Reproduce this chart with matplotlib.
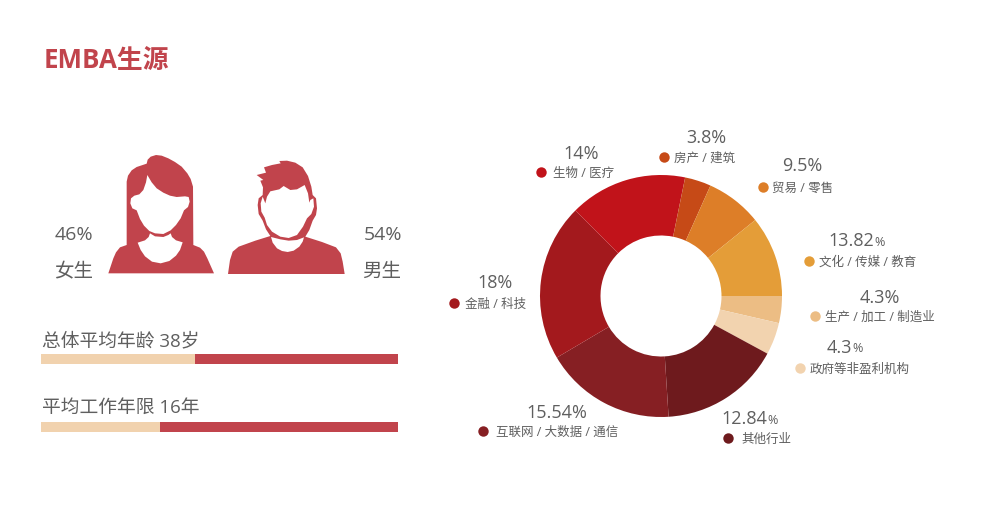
import matplotlib
matplotlib.use("Agg")
import matplotlib.pyplot as plt
from matplotlib.patches import Polygon

plt.rcParams['font.family'] = ['Open Sans', 'Noto Sans CJK SC', 'DejaVu Sans']

# ---- data ----
title = "EMBA生源"
gender_labels = ["女生", "男生"]
gender_values = ["46%", "54%"]
bar_titles = ["总体平均年龄 38岁", "平均工作年限 16年"]
bar_shares = [43.1, 33.3]          # light part of each 100 % bar
sectors = ["生产 / 加工 / 制造业", "政府等非盈利机构", "其他行业", "互联网 / 大数据 / 通信",
           "金融 / 科技", "生物 / 医疗", "房产 / 建筑", "贸易 / 零售", "文化 / 传媒 / 教育"]
sector_labels = ["4.3", "4.3", "12.84", "15.54", "18", "14", "3.8", "9.5", "13.82"]
# drawn share of each wedge
sector_shares = [3.6, 4.3, 16.1, 17.5, 21.0, 15.7, 3.5, 7.5, 10.8]

# ---- style / layout ----
W, H = 981, 517
RED = "#C1444C"
LIGHT = "#F1D2AE"
GREY = "#5F5F5F"
sector_colors = ["#ECBD84", "#F2D3AF", "#6E1A1D", "#861F23", "#A3191D",
                 "#C1131A", "#C64A17", "#DD7E28", "#E49D38"]
small_pct = [False, True, True, False, False, False, False, False, True]
num_pos = [(880, 298), (845, 348), (760, 419), (557, 413), (495, 283),
           (581, 154), (706, 138), (802, 166), (867, 241)]
dot_pos = [(815, 316), (800, 368), (728, 438), (483, 431), (454, 303),
           (541, 172), (664, 157), (763, 187), (809, 261)]
txt_x = [825, 810, 741, 496, 465, 553, 674, 772, 819]

fig = plt.figure(figsize=(W / 100, H / 100), dpi=100, facecolor="white")

# overlay in pixel space for text and icons
ov = fig.add_axes([0, 0, 1, 1])
ov.set_xlim(0, W)
ov.set_ylim(H, 0)
ov.axis("off")

ov.text(44, 60, title, fontsize=18.6, fontweight="bold", color=RED, va="center", ha="left")

# gender text
ov.text(74, 235, gender_values[0], fontsize=14, color=GREY, ha="center", va="center")
ov.text(74, 272, gender_labels[0], fontsize=14, color=GREY, ha="center", va="center")
ov.text(383, 235, gender_values[1], fontsize=14, color=GREY, ha="center", va="center")
ov.text(382, 272, gender_labels[1], fontsize=14, color=GREY, ha="center", va="center")


def flat(points, ox, oy, color):
    """Decorative silhouette; points are in zoomed picture units."""
    ov.add_patch(Polygon([(ox + x / 3, oy + y / 3) for x, y in points], closed=True,
                         facecolor=color, edgecolor="none"))


# woman
flat([(25, 385), (40, 340), (48, 322), (60, 307), (80, 300), (80, 110), (84, 92), (95, 76), (110, 66),
      (140, 56), (143, 44), (152, 35), (168, 30), (185, 32), (205, 40), (225, 51), (245, 65), (262, 85),
      (272, 102), (279, 125), (280, 300), (300, 308), (312, 320), (322, 340), (342, 385)], 100, 145, RED)
flat([(142, 90), (138, 112), (130, 135), (118, 148), (103, 152), (93, 160), (91, 175), (97, 190), (110, 196),
      (120, 222), (132, 242), (148, 258), (165, 265), (190, 267), (212, 256), (228, 240), (242, 220), (252, 196),
      (264, 186), (269, 170), (266, 156), (255, 154), (230, 156), (210, 152), (190, 143), (170, 130), (155, 112)],
     100, 145, "white")
flat([(113, 293), (135, 286), (146, 276), (150, 265), (165, 274), (190, 276), (205, 270), (212, 265), (216, 276),
      (228, 286), (248, 292), (240, 315), (228, 332), (208, 348), (182, 355), (156, 350), (135, 334), (122, 315)],
     100, 145, "white")

# man
flat([(18, 372), (24, 330), (32, 305), (50, 290), (100, 272), (145, 258), (132, 238), (122, 212), (110, 192),
      (107, 165), (110, 145), (122, 135), (123, 112), (115, 92), (124, 90), (104, 75), (132, 68), (126, 52),
      (150, 45), (176, 40), (172, 33), (195, 32), (220, 38), (242, 52), (258, 78), (268, 110), (272, 135),
      (282, 145), (285, 175), (282, 195), (272, 212), (262, 240), (250, 260), (300, 276), (342, 292),
      (356, 310), (362, 335), (368, 372)], 222, 150, RED)
flat([(122, 140), (116, 160), (118, 185), (128, 203), (135, 225), (150, 245), (175, 260), (200, 264), (225, 255),
      (243, 230), (255, 205), (268, 192), (276, 170), (274, 145), (265, 150), (262, 158), (258, 130), (248, 105),
      (225, 118), (205, 120), (185, 108), (172, 118), (145, 124), (135, 140), (130, 160)], 222, 150, "white")
flat([(147, 261), (152, 278), (165, 295), (180, 303), (197, 306), (215, 302), (232, 290), (242, 275), (246, 262),
      (225, 270), (200, 272), (175, 268)], 222, 150, "white")

# bar titles
ov.text(42, 341, bar_titles[0], fontsize=13.5, color=GREY, ha="left", va="center")
ov.text(42, 408, bar_titles[1], fontsize=13.5, color=GREY, ha="left", va="center")

# 100 % bars
bx = fig.add_axes([41 / W, 1 - 431.6 / H, (398 - 41) / W, (431.6 - 354) / H])
bx.axis("off")
bx.set_xlim(0, 100)
bx.set_ylim(1.0746, -0.0746)
ypos = range(len(bar_shares))
bx.barh(ypos, bar_shares, height=0.149, color=LIGHT)
bx.barh(ypos, [100 - s for s in bar_shares], left=bar_shares, height=0.149, color=RED)

# donut
px = fig.add_axes([(661 - 121) / W, 1 - (296 + 121) / H, 242 / W, 242 / H])
px.pie(sector_shares, colors=sector_colors, startangle=0, counterclock=False, radius=1,
       wedgeprops=dict(width=0.5, edgecolor="none"))
px.set_xlim(-1, 1)
px.set_ylim(-1, 1)

# labels
for i, name in enumerate(sectors):
    x, y = num_pos[i]
    if small_pct[i]:
        ov.text(x + 7, y, sector_labels[i], fontsize=13, color=GREY, ha="right", va="center")
        ov.text(x + 7, y + 1, "%", fontsize=9, color=GREY, ha="left", va="center")
    else:
        ov.text(x, y, sector_labels[i] + "%", fontsize=13, color=GREY, ha="center", va="center")
    ov.plot([dot_pos[i][0]], [dot_pos[i][1]], "o", ms=7.5, color=sector_colors[i], mec="none")
    ov.text(txt_x[i], dot_pos[i][1] + 1, name, fontsize=9, color=GREY, ha="left", va="center")

fig.savefig("out.png", dpi=100, facecolor="white")
